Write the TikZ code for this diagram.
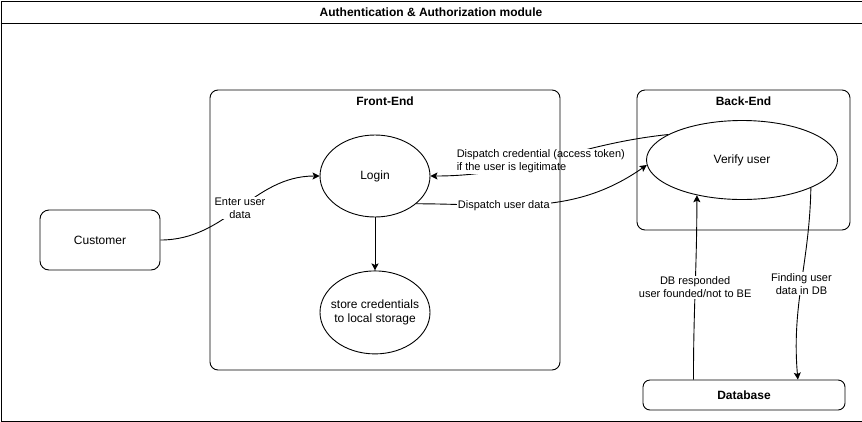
\documentclass[tikz,border=0pt]{standalone}
\usepackage{fontspec}
\setmainfont{Liberation Sans}
\usetikzlibrary{arrows.meta, positioning, shapes.geometric}

\begin{document}
\begin{tikzpicture}[
  x=1pt, y=1pt,
  font=\fontsize{12}{14}\selectfont,
  line width=0.9pt,
  box/.style={draw, rounded corners=9pt, minimum width=120pt, minimum height=60pt},
  oval/.style={ellipse, draw, inner sep=0pt},
  panel/.style={draw, rounded corners=8pt, inner sep=0pt},
  heading/.style={font=\fontsize{12}{14}\selectfont\bfseries},
  flow/.style={-{Stealth[length=7pt, width=7pt, inset=1.5pt]}},
  lbl/.style={fill=white, align=center, inner sep=1pt, font=\fontsize{11}{13}\selectfont}
]
\useasboundingbox (0,0) rectangle (862,-421);
\node[heading] (title) at (431,-12) {Authentication \& Authorization module};

\node[box] (customer) at (100,-240) {Customer};
\node[oval, minimum width=110pt, minimum height=82pt] (login) at (375,-176) {Login};
\node[oval, inner xsep=-6pt, minimum width=110pt, minimum height=83pt, align=center, below=53pt of login] (store) {store credentials\\to local storage};
\node[oval, minimum width=191pt, minimum height=79pt] (verify) at (742,-160) {Verify user};
\node[box, rounded corners=7pt, minimum width=202pt, minimum height=30pt, heading] (database) at (744,-395) {Database};

\draw[flow] (customer.east) to[out=0, in=180] node[lbl] {Enter user\\data} (login.west);
\draw[flow] (verify.161) to[out=186, in=0] node[lbl, align=left, pos=0.54] {Dispatch credential (access token)\\if the user is legitimate} (login.east);
\draw[flow] (login.-34) to[out=0, in=215] node[lbl, pos=0.35] {Dispatch user data} (verify.183);
\draw[flow] (login) -- (store);
\draw[flow] (verify.-22) to[out=-91, in=95] node[lbl] {Finding user\\data in DB} (database.16);
\draw[flow] (database.163) to[out=90, in=-90] node[lbl] {DB responded\\user founded/not to BE} (verify.218);

\node[panel, minimum width=350pt, minimum height=280pt] (frontend) at (385,-230) {};
\node[heading, below=3pt of frontend.north] (fetitle) {Front-End};
\node[panel, minimum width=213pt, minimum height=140pt] (backend) at (743.5,-160) {};
\node[heading, below=3pt of backend.north] (betitle) {Back-End};

\node[draw, inner sep=0pt, minimum width=861pt, minimum height=420pt, anchor=north west] (module) at (0.5,-0.5) {};
\draw (module.west |- 0,-23) -- (module.east |- 0,-23);
\end{tikzpicture}
\end{document}
